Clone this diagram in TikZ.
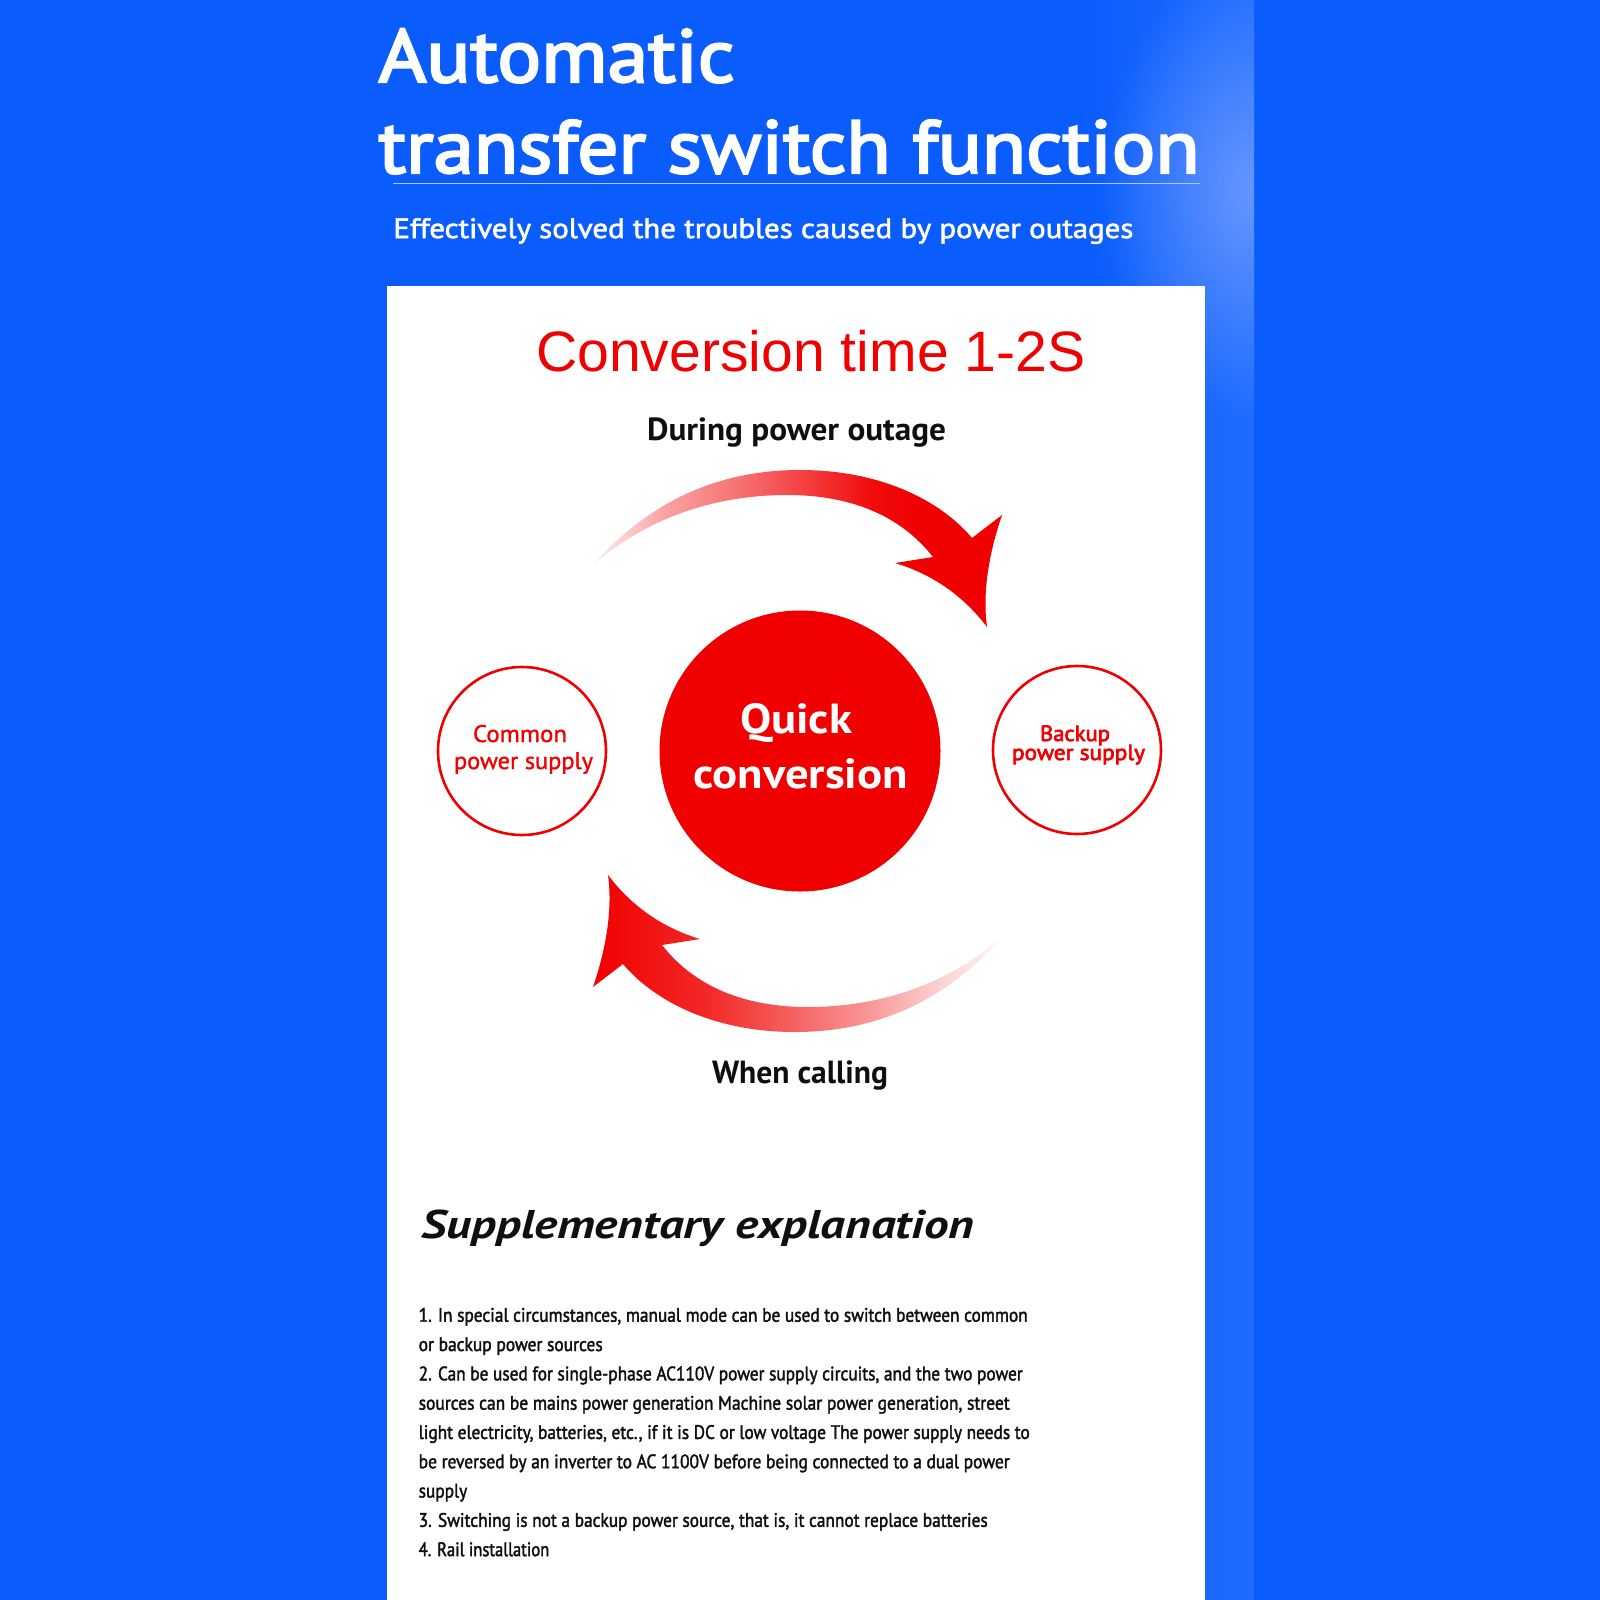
\documentclass[tikz,border=0pt]{standalone}
\usepackage{graphicx}
\usepackage{fontspec}
\setmainfont{PT Sans}
\newfontfamily\arialf{Liberation Sans}
\newfontfamily\titlef[FakeBold=3]{PT Sans}
\newfontfamily\medf[FakeBold=2]{PT Sans}
\newfontfamily\ringf[FakeBold=1.2]{PT Sans}
\usetikzlibrary{fadings}
\definecolor{bgblue}{RGB}{10,92,252}
\definecolor{glowc}{RGB}{100,150,255}
\definecolor{stripc}{RGB}{32,108,255}
\definecolor{mred}{RGB}{240,0,0}
\definecolor{ulc}{RGB}{170,200,255}
\definecolor{inkc}{RGB}{15,15,15}
\pgfdeclarehorizontalshading{topfade}{100bp}{color(0bp)=(mred!6); color(25bp)=(mred!6); color(28.3bp)=(mred!18); color(34.4bp)=(mred!38); color(42.6bp)=(mred!55); color(50.7bp)=(mred!75); color(58.9bp)=(mred!95); color(65bp)=(mred); color(100bp)=(mred)}
\pgfdeclarehorizontalshading{botfade}{100bp}{color(0bp)=(mred); color(25bp)=(mred); color(38.5bp)=(mred!85); color(46.7bp)=(mred!68); color(59bp)=(mred!40); color(67.3bp)=(mred!18); color(75bp)=(mred!4); color(100bp)=(mred!4)}
\tikzfading[name=softglow, inner color=transparent!0, outer color=transparent!100]
\newcommand{\fitw}[2]{\resizebox{#1}{\height}{#2}}
\tikzset{
  txt/.style={inner sep=0pt, outer sep=0pt, anchor=base west},
  titletxt/.style={txt, text=white, font=\titlef\fontsize{75}{80}\selectfont},
  subtxt/.style={txt, text=white, font=\medf\fontsize{28}{32}\selectfont},
  headtxt/.style={txt, text=inkc, font=\bfseries\fontsize{32}{36}\selectfont},
  bodytxt/.style={txt, text=inkc, font=\medf\fontsize{19.5}{22}\selectfont},
  ringnode/.style={circle, draw=mred, line width=2.6pt, fill=white, minimum size=168pt, inner sep=0pt},
  ringtxt/.style={txt, text=mred, font=\ringf\fontsize{24}{26}\selectfont},
  bigtxt/.style={txt, text=white, font=\bfseries\fontsize{42}{46}\selectfont}
}
\begin{document}
\begin{tikzpicture}[x=1pt,y=-1pt]
\useasboundingbox (0,0) rectangle (1600,1600);
% background
\fill[bgblue] (0,0) rectangle (1600,1600);
\shade[left color=bgblue, right color=stripc] (1080,0) rectangle (1254,1600);
\begin{scope}
  \clip (1000,0) rectangle (1254,700);
  \fill[glowc, path fading=softglow] (1250,190) ellipse (150 and 230);
\end{scope}
% title
\node[titletxt] (t1) at (378.6,82) {\fitw{356pt}{Automatic}};
\node[titletxt] (t2) at (378.6,173) {\fitw{821pt}{transfer switch function}};
\coordinate (ulA) at (393,183.5);
\coordinate (ulB) at (1200,183.5);
\draw[ulc, line width=1.4pt] (ulA) -- (ulB);
\node[subtxt] (sub) at (393.4,238) {\fitw{740pt}{Effectively solved the troubles caused by power outages}};
% white card
\fill[white] (387,286) rectangle (1205,1600);
\node[txt, text=mred, font=\arialf\fontsize{57}{60}\selectfont] (conv) at (536,371) {\fitw{549.5pt}{Conversion time 1-2S}};
\node[headtxt] (during) at (647,440) {\fitw{299pt}{During power outage}};
% top arrow
\shade[shading=topfade] (593,565) .. controls (650,500) and (720,470) .. (800,470)
  .. controls (880,470) and (940,500) .. (972,538) -- (1002,515)
  .. controls (990,550) and (982,590) .. (987,627)
  .. controls (965,598) and (935,575) .. (895,563) -- (933,557)
  .. controls (900,515) and (850,495) .. (787,495)
  .. controls (720,495) and (650,515) .. (593,565) -- cycle;
% bottom arrow
\shade[shading=botfade] (608,875) .. controls (613,912) and (605,952) .. (593,987) -- (623,964)
  .. controls (655,1002) and (715,1032) .. (795,1032)
  .. controls (875,1032) and (945,1002) .. (1002,937)
  .. controls (945,987) and (875,1007) .. (808,1007)
  .. controls (745,1007) and (695,987) .. (662,945) -- (700,939)
  .. controls (660,927) and (630,904) .. (608,875) -- cycle;
% circles
\node[circle, fill=mred, minimum size=281pt, inner sep=0pt] (quick) at (800,751) {};
\node[ringnode] (common) at (522,751) {};
\node[ringnode] (backup) at (1077,750) {};
\node[bigtxt] (q1) at (740,733) {\fitw{112pt}{Quick}};
\node[bigtxt] (q2) at (693,788) {\fitw{215pt}{conversion}};
\node[ringtxt] (c1) at (473,742) {\fitw{94pt}{Common}};
\node[ringtxt] (c2) at (454,769) {\fitw{139pt}{power supply}};
\node[ringtxt, font=\titlef\fontsize{22}{24}\selectfont] (b1) at (1040,741) {\fitw{70pt}{Backup}};
\node[ringtxt, font=\titlef\fontsize{22}{24}\selectfont] (b2) at (1012,760) {\fitw{133pt}{power supply}};
\node[headtxt] (calling) at (712,1083) {\fitw{176pt}{When calling}};
% supplementary
\node[txt, text=inkc, font=\bfseries\itshape\fontsize{40}{44}\selectfont] (supp) at (421,1238) {\fitw{553pt}{Supplementary explanation}};
\node[bodytxt] (l1) at (418.7,1321.7) {\fitw{609pt}{1. In special circumstances, manual mode can be used to switch between common}};
\node[bodytxt] (l2) at (418.7,1351.0) {\fitw{184pt}{or backup power sources}};
\node[bodytxt] (l3) at (418.7,1380.3) {\fitw{604pt}{2. Can be used for single-phase AC110V power supply circuits, and the two power}};
\node[bodytxt] (l4) at (418.7,1409.6) {\fitw{591pt}{sources can be mains power generation Machine solar power generation, street}};
\node[bodytxt] (l5) at (418.7,1438.9) {\fitw{611pt}{light electricity, batteries, etc., if it is DC or low voltage The power supply needs to}};
\node[bodytxt] (l6) at (418.7,1468.2) {\fitw{591pt}{be reversed by an inverter to AC 1100V before being connected to a dual power}};
\node[bodytxt] (l7) at (418.7,1497.5) {\fitw{48.5pt}{supply}};
\node[bodytxt] (l8) at (418.7,1526.8) {\fitw{569pt}{3. Switching is not a backup power source, that is, it cannot replace batteries}};
\node[bodytxt] (l9) at (418.7,1556.1) {\fitw{130.6pt}{4. Rail installation}};
\end{tikzpicture}
\end{document}
